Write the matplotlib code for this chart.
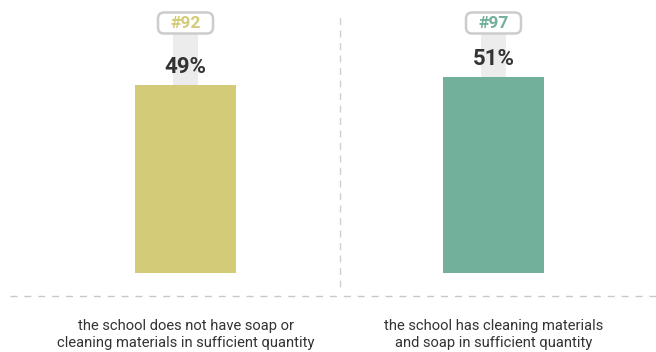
import matplotlib
matplotlib.use("Agg")
import matplotlib.pyplot as plt
from matplotlib.patches import FancyBboxPatch

# Data
categories = [
    "the school does not have soap or\ncleaning materials in sufficient quantity",
    "the school has cleaning materials\nand soap in sufficient quantity",
]
values = [49, 51]
ranks = ["#92", "#97"]
colors = ["#d4cb78", "#72b09b"]

plt.rcParams["font.family"] = ["Roboto", "DejaVu Sans"]

W, H = 656, 352
fig = plt.figure(figsize=(W / 100, H / 100), dpi=100)
ax = fig.add_axes([0, 0, 1, 1])
ax.set_xlim(-0.6023, 1.5276)
ax.set_ylim(-20.57, 71.09)
ax.axis("off")

x = list(range(len(values)))
bar_w = 0.328
col_w = 0.081
badge_y = 65.1
badge_w, badge_h = 0.1786, 5.47

for xi, v, c, r in zip(x, values, colors, ranks):
    # light guide column between badge and bar top
    ax.bar(xi, badge_y - v, bottom=v, width=col_w, color="#ececec", zorder=1)
    ax.bar(xi, v, width=bar_w, color=c, zorder=2)
    ax.annotate(f"{v}%", (xi, v), xytext=(0, 13), textcoords="offset points",
                ha="center", va="center", fontsize=16, fontweight="bold",
                color="#333333", zorder=3)
    badge = FancyBboxPatch((xi - badge_w / 2, badge_y - badge_h / 2), badge_w, badge_h,
                           boxstyle="round,pad=0,rounding_size=0.02",
                           mutation_aspect=80.2, facecolor="white",
                           edgecolor="#cccccc", linewidth=1.8, zorder=4)
    ax.add_patch(badge)
    ax.text(xi, badge_y, r, ha="center", va="center", fontsize=12.5,
            fontweight="bold", color=c, zorder=5)

# separators
ax.plot([0.5, 0.5], [-3.6, 67.7], color="#d0d0d0", lw=1, ls=(0, (5, 4)), zorder=0)
ax.plot([-0.57, 1.53], [-6, -6], color="#c8c8c8", lw=1, ls=(0, (5, 5)), zorder=0)

for xi, cat in zip(x, categories):
    ax.text(xi, -16.1, cat, ha="center", va="center", fontsize=10.6,
            color="#333333", linespacing=1.25)

fig.savefig("out.png", dpi=100)
